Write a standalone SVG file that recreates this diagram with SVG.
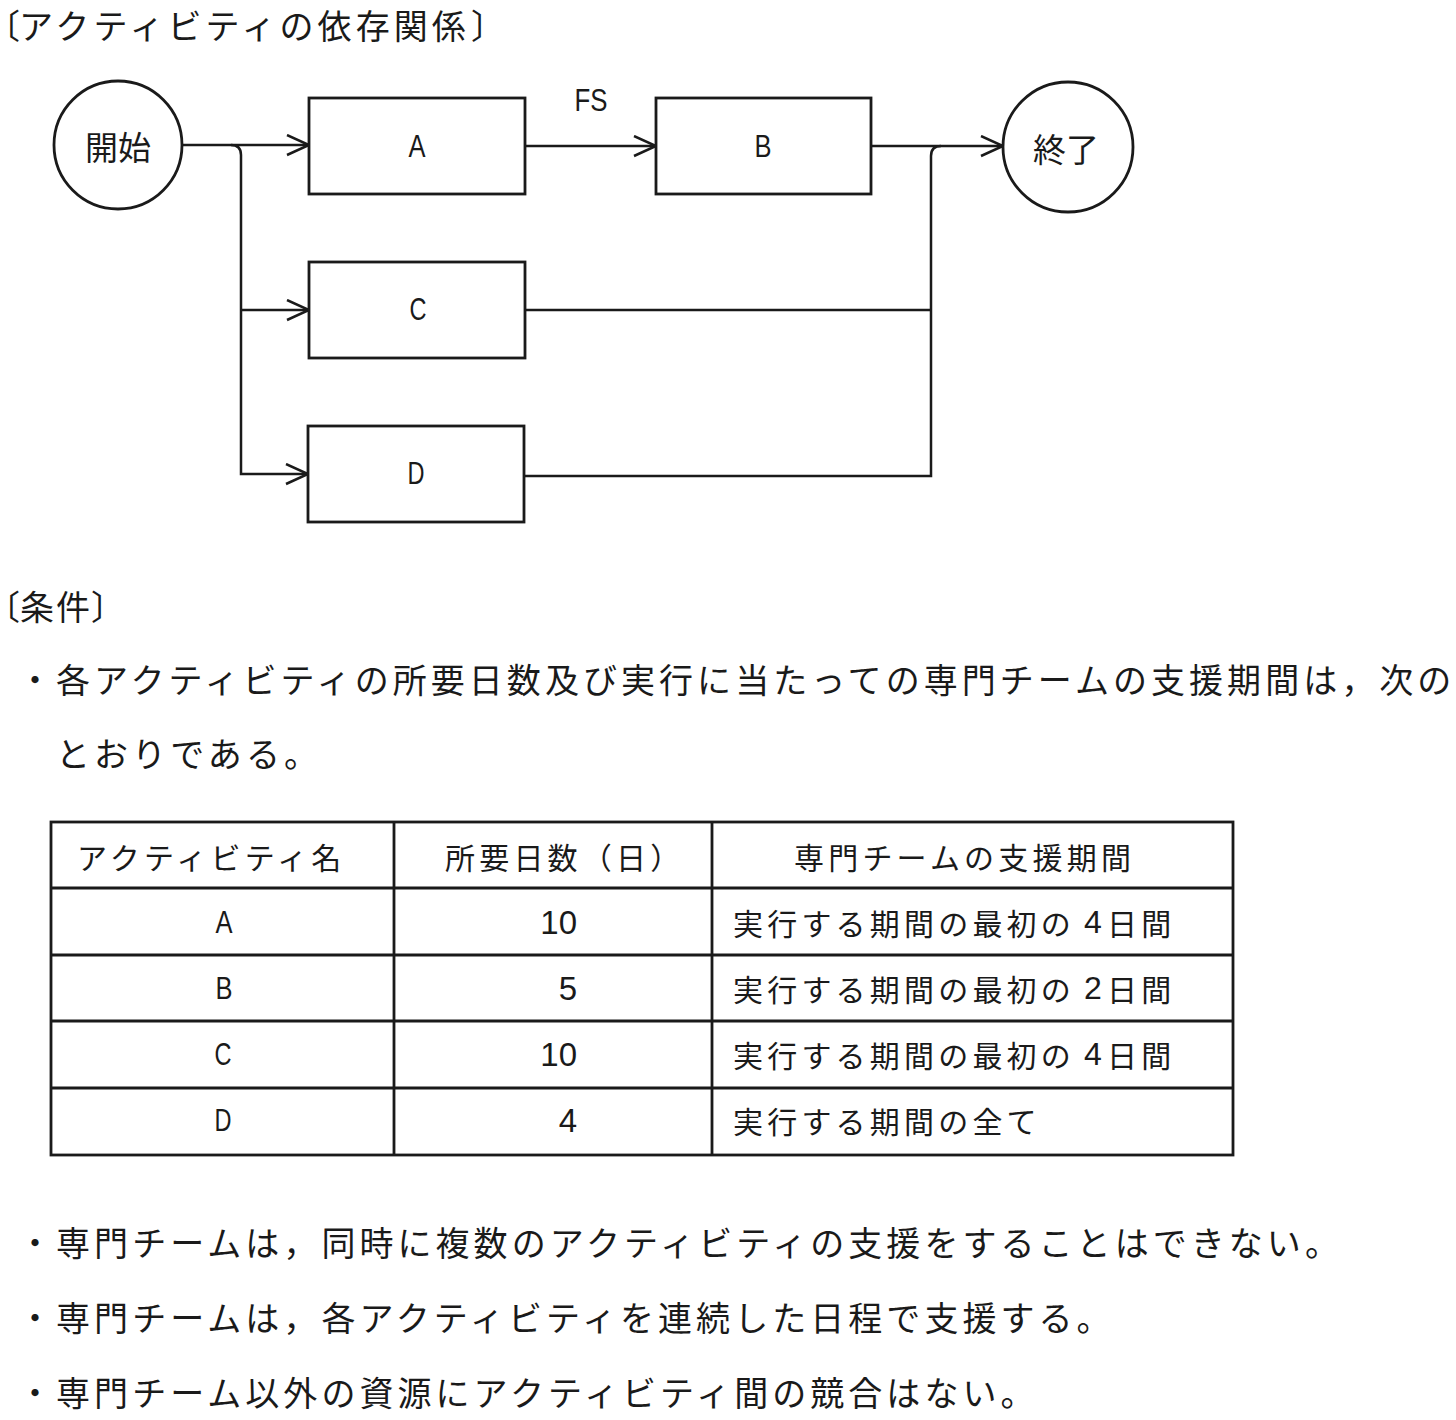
<svg xmlns="http://www.w3.org/2000/svg" width="1456" height="1420" viewBox="0 0 1456 1420">
<defs>
<style>
.jp{font-family:"Noto Sans CJK JP","Noto Sans CJK SC",sans-serif;fill:#1a1a1a;dominant-baseline:central;}
.body{font-size:34px;letter-spacing:4.05px;}
.tb{font-size:30px;letter-spacing:4.2px;}
.halt{font-feature-settings:"halt" 1;letter-spacing:0;}
.lat{font-family:"Liberation Sans",sans-serif;font-size:32px;dominant-baseline:central;text-anchor:middle;fill:#1a1a1a;}
.num{font-family:"Liberation Sans",sans-serif;font-size:33px;dominant-baseline:central;text-anchor:end;fill:#1a1a1a;}
.node{fill:#fff;stroke:#1a1a1a;stroke-width:2.8;}
.edge{fill:none;stroke:#1a1a1a;stroke-width:2.5;}
.grid{stroke:#1a1a1a;stroke-width:2.8;fill:none;}
</style>
<marker id="arr" markerUnits="userSpaceOnUse" markerWidth="26" markerHeight="24" refX="23" refY="11" orient="auto" viewBox="0 0 26 24">
<path d="M1,1 L23,11 L1,21" fill="none" stroke="#1a1a1a" stroke-width="2.5"/>
</marker>
</defs>
<rect width="1456" height="1420" fill="#fff"/>

<g id="title">
<text class="jp body halt" x="3" y="24">〔</text>
<text class="jp body" x="19" y="24">アクティビティの依存関係</text>
<text class="jp body" x="471" y="24">〕</text>
</g>

<g id="connectors">
<path class="edge" d="M182,145 L309,145" marker-end="url(#arr)"/>
<path class="edge" d="M231,145 Q241,145 241,155 L241,474 L308,474" marker-end="url(#arr)"/>
<path class="edge" d="M241,310 L309,310" marker-end="url(#arr)"/>
<path class="edge" d="M525,146 L656,146" marker-end="url(#arr)"/>
<path class="edge" d="M871,146 L1003,146" marker-end="url(#arr)"/>
<path class="edge" d="M941,146 Q931,146 931,156 L931,476 L524,476"/>
<path class="edge" d="M525,310 L931,310"/>
<text class="lat" x="591" y="100" textLength="33" lengthAdjust="spacingAndGlyphs">FS</text>
</g>

<g id="start">
<circle class="node" cx="118" cy="145" r="64"/>
<text class="jp" x="118" y="146" font-size="33" text-anchor="middle">開始</text>
</g>
<g id="nodeA">
<rect class="node" x="309" y="98" width="216" height="96"/>
<text class="lat" x="417" y="146" textLength="17" lengthAdjust="spacingAndGlyphs">A</text>
</g>
<g id="nodeB">
<rect class="node" x="656" y="98" width="215" height="96"/>
<text class="lat" x="763" y="146" textLength="17" lengthAdjust="spacingAndGlyphs">B</text>
</g>
<g id="nodeC">
<rect class="node" x="309" y="262" width="216" height="96"/>
<text class="lat" x="418" y="309" textLength="17" lengthAdjust="spacingAndGlyphs">C</text>
</g>
<g id="nodeD">
<rect class="node" x="308" y="426" width="216" height="96"/>
<text class="lat" x="416" y="473" textLength="17" lengthAdjust="spacingAndGlyphs">D</text>
</g>
<g id="end">
<circle class="node" cx="1068" cy="147" r="65"/>
<text class="jp" x="1066" y="148" font-size="33" text-anchor="middle">終了</text>
</g>

<g id="conditions">
<text class="jp body halt" x="3" y="605">〔</text>
<text class="jp body" x="20" y="605" style="letter-spacing:2px">条件</text>
<text class="jp body" x="91" y="605">〕</text>
<text class="jp body" x="18" y="678">・各アクティビティの所要日数及び実行に当たっての専門チームの支援期間は，次の</text>
<text class="jp body" x="56" y="752">とおりである。</text>
</g>

<g id="table">
<rect class="grid" x="51" y="822" width="1182" height="333"/>
<path class="grid" d="M51,888 H1233 M51,955 H1233 M51,1021 H1233 M51,1088 H1233 M394,822 V1155 M712,822 V1155"/>
<text class="jp tb" x="77" y="856">アクティビティ名</text>
<text class="jp tb" x="445" y="856">所要日数（日）</text>
<text class="jp tb" x="794" y="856">専門チームの支援期間</text>

<text class="lat" x="224" y="922" textLength="17" lengthAdjust="spacingAndGlyphs">A</text>
<text class="lat" x="224" y="988" textLength="17" lengthAdjust="spacingAndGlyphs">B</text>
<text class="lat" x="223" y="1054" textLength="17" lengthAdjust="spacingAndGlyphs">C</text>
<text class="lat" x="223" y="1120" textLength="17" lengthAdjust="spacingAndGlyphs">D</text>

<text class="num" x="577" y="922">10</text>
<text class="num" x="577" y="988">5</text>
<text class="num" x="577" y="1054">10</text>
<text class="num" x="577" y="1120">4</text>

<text class="jp tb" x="733" y="922">実行する期間の最初の</text>
<text class="lat" x="1093" y="922" font-size="31">4</text>
<text class="jp tb" x="1107" y="922">日間</text>
<text class="jp tb" x="733" y="988">実行する期間の最初の</text>
<text class="lat" x="1093" y="988" font-size="31">2</text>
<text class="jp tb" x="1107" y="988">日間</text>
<text class="jp tb" x="733" y="1054">実行する期間の最初の</text>
<text class="lat" x="1093" y="1054" font-size="31">4</text>
<text class="jp tb" x="1107" y="1054">日間</text>
<text class="jp tb" x="733" y="1120">実行する期間の全て</text>
</g>

<g id="notes">
<text class="jp body" x="18" y="1241">・専門チームは，同時に複数のアクティビティの支援をすることはできない。</text>
<text class="jp body" x="18" y="1316">・専門チームは，各アクティビティを連続した日程で支援する。</text>
<text class="jp body" x="18" y="1391">・専門チーム以外の資源にアクティビティ間の競合はない。</text>
</g>
</svg>
